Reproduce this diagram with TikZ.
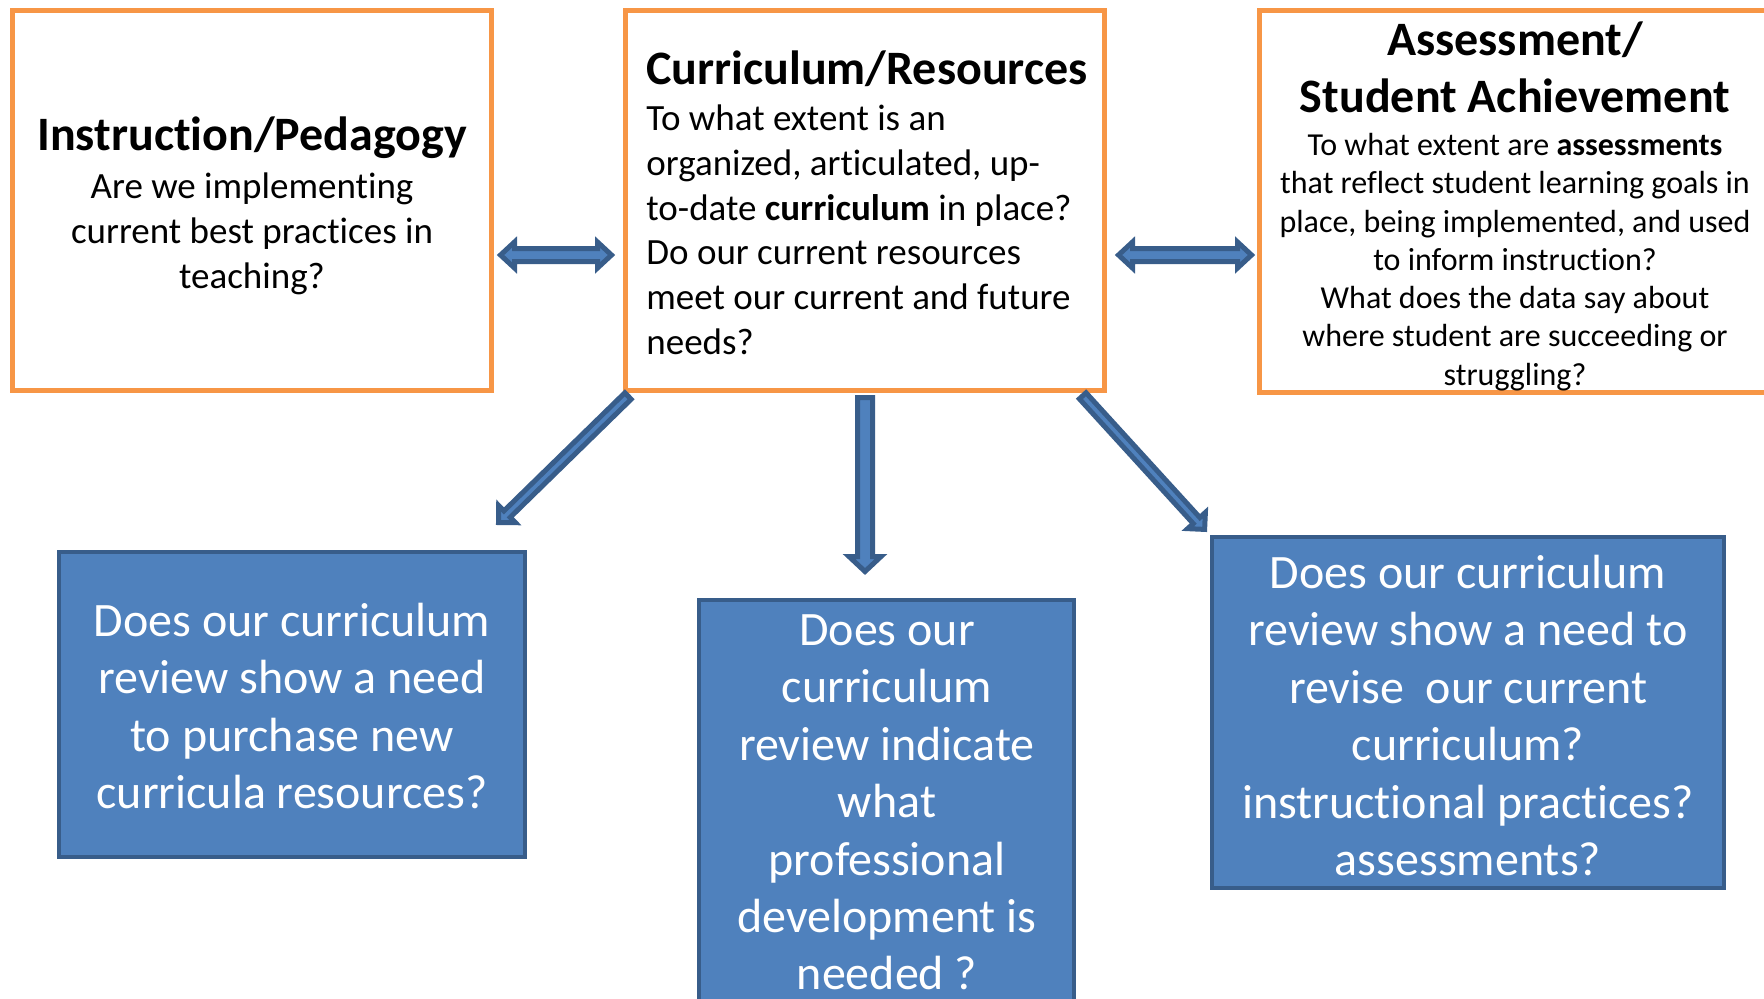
\documentclass[tikz,border=0pt]{standalone}
\usepackage{fontspec}
\setmainfont{Carlito}[Ligatures=NoCommon]
\usetikzlibrary{calc,fit}
\definecolor{orng}{HTML}{F79646}
\definecolor{bfill}{HTML}{4F81BD}
\definecolor{bline}{HTML}{385D8A}
\newcommand{\fstrut}{\rule{0pt}{1em}}
\tikzset{
  obox/.style={draw=orng, line width=2.5pt, fill=white, inner sep=0pt},
  bbox/.style={draw=bline, line width=2pt, fill=bfill, inner sep=0pt},
  ttl/.style={font=\fontsize{24}{28.5}\selectfont\bfseries, inner sep=0pt},
  bodytxt/.style={font=\fontsize{18.5}{22.4}\selectfont, inner sep=0pt},
  smalltxt/.style={font=\fontsize{16}{19.15}\selectfont, inner sep=0pt, align=center},
  qtxt/.style={font=\fontsize{24}{28.7}\selectfont, text=white, align=center, inner sep=0pt},
  blk/.style={fill=bfill, draw=bline, line width=2.5pt, line join=miter},
  onehead/.style n args={3}{blk, to path={
    ($(\tikztostart)!#1!90:(\tikztotarget)$)
    -- ($(\tikztotarget)!#3!(\tikztostart)!#1!90:(\tikztotarget)$)
    -- ($(\tikztotarget)!#3!(\tikztostart)!#2!90:(\tikztotarget)$)
    -- (\tikztotarget)
    -- ($(\tikztotarget)!#3!(\tikztostart)!#2!-90:(\tikztotarget)$)
    -- ($(\tikztotarget)!#3!(\tikztostart)!#1!-90:(\tikztotarget)$)
    -- ($(\tikztostart)!#1!-90:(\tikztotarget)$)
    -- cycle}},
  twohead/.style n args={3}{blk, to path={
    -- ($(\tikztostart)!#3!(\tikztotarget)!#2!90:(\tikztotarget)$)
    -- ($(\tikztostart)!#3!(\tikztotarget)!#1!90:(\tikztotarget)$)
    -- ($(\tikztotarget)!#3!(\tikztostart)!#1!90:(\tikztotarget)$)
    -- ($(\tikztotarget)!#3!(\tikztostart)!#2!90:(\tikztotarget)$)
    -- (\tikztotarget)
    -- ($(\tikztotarget)!#3!(\tikztostart)!#2!-90:(\tikztotarget)$)
    -- ($(\tikztotarget)!#3!(\tikztostart)!#1!-90:(\tikztotarget)$)
    -- ($(\tikztostart)!#3!(\tikztotarget)!#1!-90:(\tikztotarget)$)
    -- ($(\tikztostart)!#3!(\tikztotarget)!#2!-90:(\tikztotarget)$)
    -- cycle}}
}
\begin{document}
\begin{tikzpicture}[x=0.5pt,y=-0.5pt]
\useasboundingbox[fill=white] (0,0) rectangle (1764,998);

% top boxes
\node (instr) [obox, fit={(12.5,10.5) (491.5,390.5)}] {};
\node (curr) [obox, fit={(625.5,10.5) (1104.5,390.5)}] {};
\node (assess) [obox, fit={(1259.5,10) (1776,392.5)}] {};

\node (instrT) [ttl, anchor=base] at (252,150) {Instruction/Pedagogy};
\node (instrB) [bodytxt, align=center, anchor=north] at (252,161)
  {\fstrut Are we implementing\\current best practices in\\teaching?};

\node (currT) [ttl, anchor=base west] at (646,84) {Curriculum/Resources};
\node (currB) [bodytxt, align=left, anchor=north west] at (646,93)
  {\fstrut To what extent is an\\organized, articulated, up-\\to-date \textbf{curriculum} in place?\\Do our current resources\\meet our current and future\\needs?};

\node (assessT) [ttl, align=center, anchor=north] at (1515,7)
  {\fstrut Assessment/\\Student Achievement};
\node (assessB) [smalltxt, anchor=north] at (1515,123)
  {\fstrut To what extent are \textbf{assessments}\\that reflect student learning goals in\\place, being implemented, and used\\to inform instruction?\\What does the data say about\\where student are succeeding or\\struggling?};

% bottom boxes
\node (q1) [bbox, fit={(59,552) (525,857)}] {};
\node (q2) [bbox, fit={(699,600) (1074,1012)}] {};
\node (q3) [bbox, fit={(1212,537) (1724,888)}] {};

\node (q1T) [qtxt, anchor=north] at (292,588)
  {\fstrut Does our curriculum\\review show a need\\to purchase new\\curricula resources?};
\node (q2T) [qtxt, anchor=north] at (887,597)
  {\fstrut Does our\\curriculum\\review indicate\\what\\professional\\development is\\needed ?};
\node (q3T) [qtxt, anchor=north] at (1468,540)
  {\fstrut Does our curriculum\\review show a need to\\revise\ \ our current\\curriculum?\\instructional practices?\\assessments?};

% arrows
\coordinate (h1a) at (500.5,255);
\coordinate (h1b) at (611.5,255);
\coordinate (h2a) at (1118.5,255);
\coordinate (h2b) at (1251.5,255);
\coordinate (dLa) at (628,396);
\coordinate (dLb) at (498.5,522.5);
\coordinate (dMa) at (865,397.5);
\coordinate (dMb) at (865,571.5);
\coordinate (dRa) at (1082.7,395.8);
\coordinate (dRb) at (1204.6,529.4);

\draw[twohead={3.25pt}{6.5pt}{7pt}] (h1a) to (h1b);
\draw[twohead={3.25pt}{6.5pt}{7pt}] (h2a) to (h2b);
\draw[onehead={2.25pt}{6pt}{6pt}] (dLa) to (dLb);
\draw[onehead={3.75pt}{8pt}{7.5pt}] (dMa) to (dMb);
\draw[onehead={2.25pt}{6pt}{6pt}] (dRa) to (dRb);
\end{tikzpicture}
\end{document}
